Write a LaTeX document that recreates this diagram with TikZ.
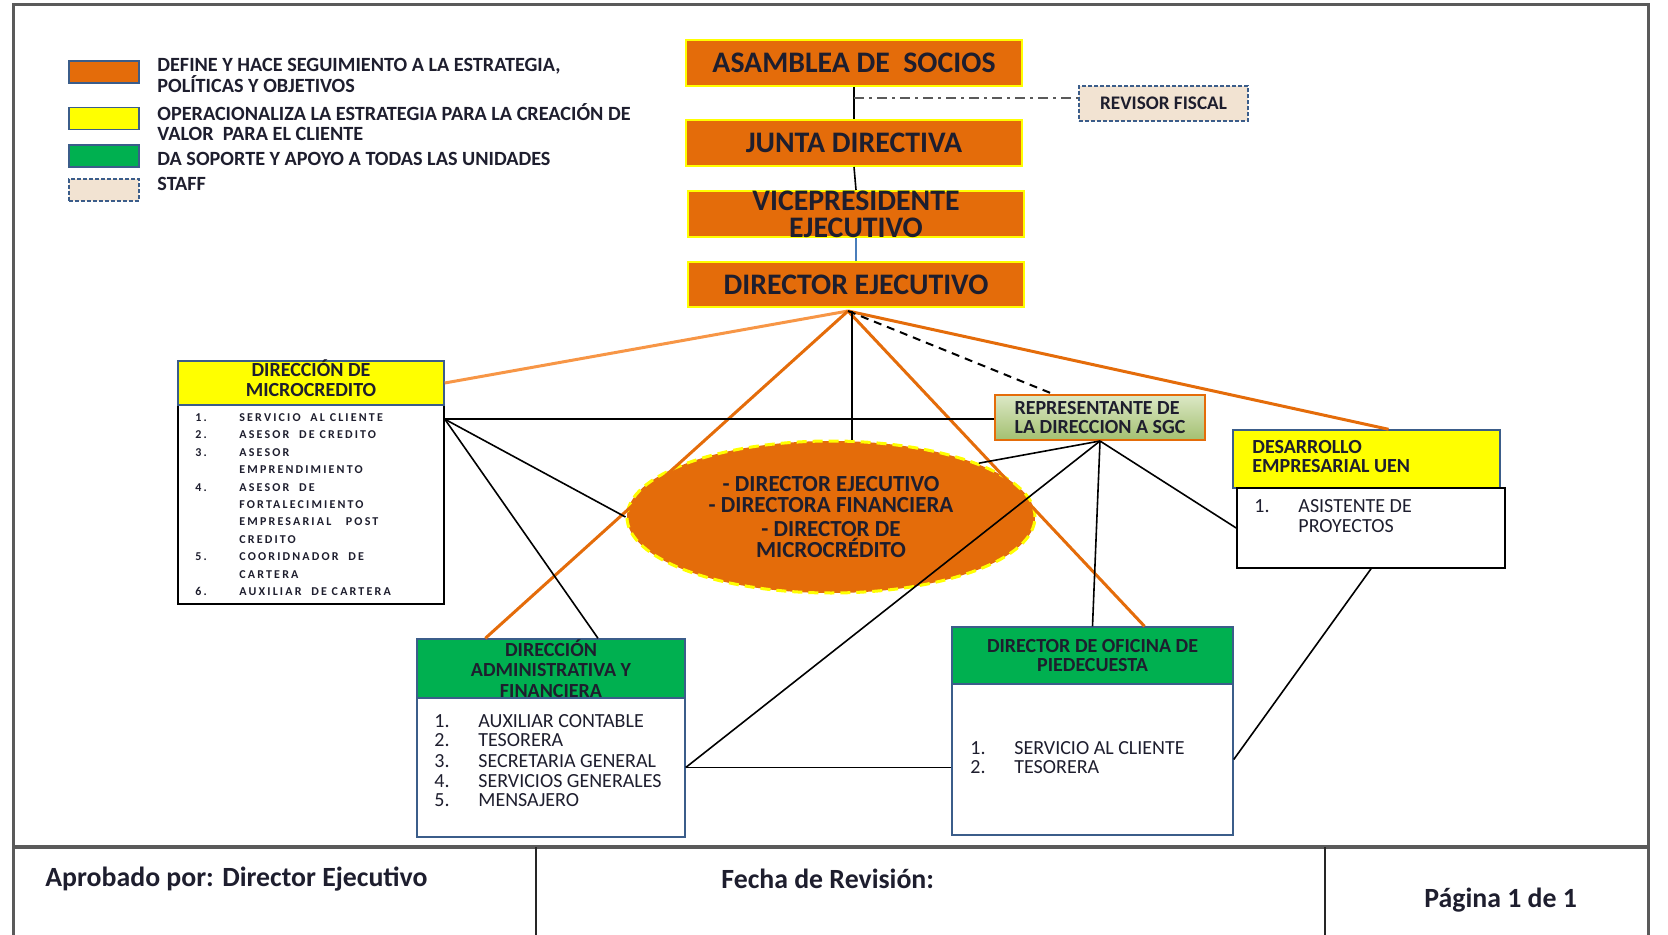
\documentclass[tikz,border=0pt]{standalone}
\usepackage{fontspec}
\setmainfont{Carlito}
\newfontfamily\mcfont[LetterSpace=18]{Carlito}
\usetikzlibrary{calc,shapes.geometric}
\definecolor{orgF}{HTML}{E46C0A}
\definecolor{orgL}{HTML}{F79646}
\definecolor{ylw}{HTML}{FFFF00}
\definecolor{grn}{HTML}{00B050}
\definecolor{bblue}{HTML}{3B5D8A}
\definecolor{lblue}{HTML}{4A7EBB}
\definecolor{repT}{HTML}{DCE8C6}
\definecolor{repB}{HTML}{A3C070}
\definecolor{staffF}{HTML}{F2E3D2}
\definecolor{frameG}{HTML}{5A5A5A}
\definecolor{txt}{HTML}{1E1E2E}
\begin{document}
\begin{tikzpicture}[x=0.5pt,y=-0.5pt,
  topbox/.style={draw=ylw, line width=1pt, fill=orgF, minimum width=168pt, inner sep=0pt, text=txt, font=\bfseries\fontsize{14.9}{13.5}\selectfont, align=center},
  hdr/.style={draw=bblue, line width=0.7pt, inner sep=0pt},
  hdrtxt/.style={inner sep=0pt, align=center, text=txt, font=\bfseries\fontsize{10}{10}\selectfont},
  body/.style={draw=black, line width=0.8pt, fill=white, inner sep=0pt},
  bodyb/.style={draw=bblue, line width=0.7pt, fill=white, inner sep=0pt},
  swatch/.style={draw=bblue, line width=0.8pt, minimum width=35pt, minimum height=11pt, inner sep=0pt},
  legtxt/.style={anchor=west, align=left, inner sep=0pt, text=txt, font=\bfseries\fontsize{10.1}{9.6}\selectfont},
  oline/.style={draw=orgF, line width=1.5pt},
  bline/.style={draw=black, line width=0.8pt},
  ltxt/.style={anchor=base west, inner sep=0pt, text=txt, font=\fontsize{10}{10}\selectfont},
  btxt/.style={anchor=base west, inner sep=0pt, text=txt, font=\bfseries\fontsize{10}{10}\selectfont},
  mtxt/.style={anchor=base west, inner sep=0pt, text=txt, font=\mcfont\bfseries\fontsize{6}{6}\selectfont},
  ftxt/.style={anchor=west, inner sep=0pt, text=txt, font=\bfseries\fontsize{13.9}{13.9}\selectfont},
]
\useasboundingbox (0,0) rectangle (1668,935);
% frame and footer
\draw[frameG, line width=1.5pt] (13,935) -- (13,5) -- (1648,5) -- (1648,935);
\draw[frameG, line width=2pt] (13,847) -- (1648,847);
\draw[black!85, line width=1pt] (536,847) -- (536,935);
\draw[black!85, line width=1pt] (1325,847) -- (1325,935);
\node[ftxt] (f1) at (45,879) {Aprobado por: Director Ejecutivo};
\node[ftxt] (f2) at (721,879) {Fecha de Revisión:};
\node[ftxt] (f3) at (1424,900) {Página 1 de 1};

% legend
\node[swatch, fill=orgF] (sw1) at (104,72) {};
\node[swatch, fill=ylw] (sw2) at (104,118.5) {};
\node[swatch, fill=grn] (sw3) at (104,156) {};
\node[swatch, fill=staffF, dash pattern=on 2pt off 1pt] (sw4) at (104,190) {};
\node[legtxt] (lg1) at (157,75.5) {DEFINE Y HACE SEGUIMIENTO A LA ESTRATEGIA,\\POLÍTICAS Y OBJETIVOS};
\node[legtxt] (lg2) at (157,122) {OPERACIONALIZA LA ESTRATEGIA PARA LA CREACIÓN DE\\VALOR~ PARA EL CLIENTE};
\node[legtxt] (lg3) at (157,159) {DA SOPORTE Y APOYO A TODAS LAS UNIDADES};
\node[legtxt] (lg4) at (157,184) {STAFF};

% top chain
\node[topbox, minimum height=23pt] (asam) at (854,63) {ASAMBLEA DE~ SOCIOS};
\node[topbox, minimum height=23pt] (junta) at (854,143) {JUNTA DIRECTIVA};
\node[topbox, minimum height=23pt] (vice) at (856,214) {};
\node[topbox, draw=none, fill=none] (vicet) at (vice.center) {VICEPRESIDENTE\\EJECUTIVO};
\node[topbox, minimum height=22.5pt] (dir) at (856,284.5) {DIRECTOR EJECUTIVO};
\node[draw=bblue, dash pattern=on 2pt off 1pt, line width=0.8pt, fill=staffF, minimum width=84.5pt, minimum height=17.5pt, inner sep=0pt, text=txt, font=\bfseries\fontsize{9.6}{9.6}\selectfont] (rev) at (1163.5,103.5) {REVISOR FISCAL};

% microcredito
\node[body, minimum width=133pt, minimum height=99.5pt] (micB) at (311,504.5) {};
\node[hdr, fill=ylw, minimum width=133pt, minimum height=22pt] (micH) at (311,383) {};
\node[hdrtxt] (micHT) at (311,378.5) {DIRECCIÓN DE\\MICROCREDITO};
\foreach \b/\n [count=\i] in {421/1.,438/2.,456/3.,491/4.,560/5.,595/6.}
  {\node[mtxt] (mn\i) at (195,\b) {\n};}
\foreach \b/\t [count=\i] in {421/SERVICIO~ AL CLIENTE,438/ASESOR~ DE CREDITO,456/ASESOR,473/EMPRENDIMIENTO,491/ASESOR~ DE,508/FORTALECIMIENTO,525/EMPRESARIAL~~ POST,543/CREDITO,560/COORIDNADOR~ DE,578/CARTERA,595/AUXILIAR~ DE CARTERA}
  {\node[mtxt] (mt\i) at (239,\b) {\t};}

% ellipse
\node[ellipse, fill=orgF, draw=ylw, line width=1.5pt, dash pattern=on 5pt off 3pt, minimum width=204pt, minimum height=76pt, inner sep=0pt, align=center, text=txt, font=\bfseries\fontsize{11.5}{10.5}\selectfont] (ell) at (831,517) {- DIRECTOR EJECUTIVO\\- DIRECTORA FINANCIERA\\[1.5pt]- DIRECTOR DE\\MICROCRÉDITO};

% representante
\node[draw=orgF, line width=1pt, top color=repT, bottom color=repB, minimum width=105pt, minimum height=22.5pt, inner sep=0pt, align=left, text=txt, font=\bfseries\fontsize{10}{9.5}\selectfont] (rep) at (1100,417.5) {REPRESENTANTE DE\\LA DIRECCION A SGC};

% desarrollo
\node[hdr, fill=ylw, minimum width=133.5pt, minimum height=29pt] (desH) at (1366.5,459) {};
\node[body, minimum width=134pt, minimum height=40pt] (desB) at (1371,528) {};
\node[btxt] (desT1) at (1252,453) {DESARROLLO};
\node[btxt] (desT2) at (1252,472) {EMPRESARIAL UEN};
\node[ltxt] (desN1) at (1254,512) {1.};
\node[ltxt] (desL1) at (1298,512) {ASISTENTE DE};
\node[ltxt] (desL2) at (1298,532) {PROYECTOS};

% administrativa
\node[hdr, fill=grn, minimum width=134pt, minimum height=29.5pt] (admH) at (551,668.5) {};
\node[bodyb, minimum width=134pt, minimum height=69.5pt] (admB) at (551,767.5) {};
\node[hdrtxt, font=\bfseries\fontsize{10}{10.25}\selectfont] (admHT) at (551,668.5) {DIRECCIÓN\\ADMINISTRATIVA Y\\FINANCIERA};
\foreach \b/\t [count=\i] in {727/AUXILIAR CONTABLE,746/TESORERA,767/SECRETARIA GENERAL,787/SERVICIOS GENERALES,806/MENSAJERO}
  {\node[ltxt] (an\i) at (434,\b) {\i.};
   \node[ltxt] (at\i) at (478,\b) {\t};}

% oficina
\node[hdr, fill=grn, minimum width=140.5pt, minimum height=28.5pt] (ofiH) at (1092.5,655.5) {};
\node[bodyb, minimum width=140.5pt, minimum height=75.5pt] (ofiB) at (1092.5,759.5) {};
\node[hdrtxt, font=\bfseries\fontsize{10}{9.5}\selectfont] (ofiHT) at (1092.5,655.5) {DIRECTOR DE OFICINA DE\\PIEDECUESTA};
\foreach \b/\t [count=\i] in {754/SERVICIO AL CLIENTE,773/TESORERA}
  {\node[ltxt] (on\i) at (970,\b) {\i.};
   \node[ltxt] (ot\i) at (1014,\b) {\t};}

% connectors
\coordinate (apex) at (848,311);
\coordinate (apexv) at (852,311);
\coordinate (rfj) at (854,98);
\coordinate (mcp) at ($(micB.north east)+(0,15)$);
\draw[bline] (asam.south) -- (junta.north);
\draw[frameG, line width=1pt, dash pattern=on 5pt off 2.5pt on 1.5pt off 2.5pt] (rfj) -- (rfj -| rev.west);
\draw[bline] (junta.south) -- (vice.north);
\draw[lblue, line width=0.8pt] (vice.south) -- (dir.north);
\draw[orgL, line width=1.5pt] (apex) -- (micH.east);
\draw[oline] (apex) -- ($(admH.north west)+(69,0)$);
\draw[oline] (apex) -- ($(ofiH.north)+(52,0)$);
\draw[oline] (apex) -- ($(desH.north)+(22,0)$);
\draw[bline] (apexv) -- (apexv |- ell.north);
\draw[black, line width=1pt, dash pattern=on 4pt off 3pt] (apex) -- ($(rep.north)+(-47,0)$);
\draw[bline] (mcp) -- (mcp -| rep.west);
\draw[bline] (mcp) -- (ell.west);
\draw[bline] (mcp) -- ($(admH.north)+(47,0)$);
\draw[bline] (rep.south) -- (ell.20);
\draw[bline] (rep.south) -- (admB.east);
\draw[bline] (rep.south) -- (ofiH.north);
\draw[bline] (rep.south) -- (desB.west);
\draw[bline] (desB.south) -- (ofiB.east);
\draw[bline] (admB.east) -- (admB.east -| ofiB.west);
\end{tikzpicture}
\end{document}
